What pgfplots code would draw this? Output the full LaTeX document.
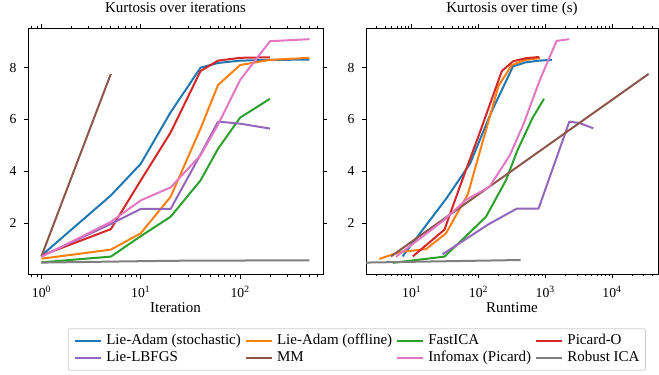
\documentclass[border=0pt]{standalone}
\usepackage{fontspec}
\setmainfont{Liberation Serif}
\usepackage{pgfplots}
\pgfplotsset{compat=1.18}
\definecolor{tabblue}{HTML}{1F77B4}
\definecolor{taborange}{HTML}{FF7F0E}
\definecolor{tabgreen}{HTML}{2CA02C}
\definecolor{tabred}{HTML}{D62728}
\definecolor{tabpurple}{HTML}{9467BD}
\definecolor{tabbrown}{HTML}{8C564B}
\definecolor{tabpink}{HTML}{E377C2}
\definecolor{tabgray}{HTML}{7F7F7F}
\definecolor{legframe}{HTML}{CCCCCC}
\begin{document}
\begin{tikzpicture}
\useasboundingbox (0pt,0pt) rectangle (659pt,375pt);
\begin{axis}[
  xmode=log, scale only axis, height=246pt,
  ymin=0.04, ymax=9.53, ytick={2,4,6,8},
  tick align=outside,
  major tick length=4.5pt, minor tick length=2.5pt,
  every tick/.style={black, line width=0.7pt},
  axis line style={line width=0.8pt},
  tick label style={font=\fontsize{13.7}{16}\selectfont},
  yticklabel style={anchor=east, inner xsep=0pt, xshift=-6.8pt},
  xticklabel style={anchor=base, inner sep=0pt, yshift=-19pt},
  title style={font=\fontsize{15}{18}\selectfont, anchor=base, at={(0.5,1)}, yshift=9.3pt},
  xlabel style={font=\fontsize{15}{18}\selectfont, anchor=base, at={(axis description cs:0.5,0)}, yshift=-38pt},
  every axis plot/.append style={line width=2pt, line join=round},
  at={(28pt,101pt)}, anchor=south west, width=295pt,
  xmin=0.733, xmax=684,
  xtick={1,10,100}, xticklabels={10\textsuperscript{0},10\textsuperscript{1},10\textsuperscript{2}},
  minor xtick={0.8,0.9,2,3,4,5,6,7,8,9,20,30,40,50,60,70,80,90,200,300,400,500,600},
  title={Kurtosis over iterations}, xlabel={Iteration},
  legend columns=4,
  legend cell align=left,
  legend image code/.code={\draw[#1] (0pt,0pt) -- (26pt,0pt);},
  legend style={at={(1.115,-0.2207)}, anchor=north, draw=legframe, line width=0.8pt, rounded corners=2pt,
    font=\fontsize{15}{18}\selectfont, inner xsep=6pt, inner ysep=5pt, row sep=3.5pt,
    nodes={inner xsep=0pt, inner ysep=0pt, text height=10.5pt, text depth=3.5pt},
    /tikz/every odd column/.append style={column sep=4pt},
    /tikz/every even column/.append style={column sep=4.2pt}},
  /pgf/number format/assume math mode=true,
]
\addplot[tabblue] coordinates {(1,0.75)(5,3.07)(10,4.29)(20,6.28)(40,8.0)(60,8.18)(100,8.27)(200,8.3)(500,8.31)};
\addlegendentry{Lie-Adam (stochastic)}
\addplot[taborange] coordinates {(1,0.63)(5,0.98)(10,1.61)(20,3.02)(40,5.65)(60,7.33)(100,8.1)(200,8.3)(500,8.38)};
\addlegendentry{Lie-Adam (offline)}
\addplot[tabgreen] coordinates {(1,0.49)(5,0.71)(10,1.5)(20,2.25)(40,3.65)(60,4.87)(100,6.07)(200,6.8)};
\addlegendentry{FastICA}
\addplot[tabred] coordinates {(1,0.75)(5,1.77)(10,3.65)(20,5.5)(40,7.87)(60,8.27)(100,8.38)(200,8.4)};
\addlegendentry{Picard-O}
\addplot[tabpurple] coordinates {(1,0.72)(5,1.97)(10,2.55)(20,2.55)(40,4.65)(60,5.92)(100,5.84)(200,5.65)};
\addlegendentry{Lie-LBFGS}
\addplot[tabbrown] coordinates {(1,0.72)(5,7.76)};
\addlegendentry{MM}
\addplot[tabpink] coordinates {(1,0.7)(5,2.05)(10,2.88)(20,3.38)(40,4.62)(60,5.8)(100,7.52)(200,9.02)(500,9.1)};
\addlegendentry{Infomax (Picard)}
\addplot[tabgray] coordinates {(1,0.48)(20,0.55)(500,0.57)};
\addlegendentry{Robust ICA}
\end{axis}
\begin{axis}[
  xmode=log, scale only axis, height=246pt,
  ymin=0.04, ymax=9.53, ytick={2,4,6,8},
  tick align=outside,
  major tick length=4.5pt, minor tick length=2.5pt,
  every tick/.style={black, line width=0.7pt},
  axis line style={line width=0.8pt},
  tick label style={font=\fontsize{13.7}{16}\selectfont},
  yticklabel style={anchor=east, inner xsep=0pt, xshift=-6.8pt},
  xticklabel style={anchor=base, inner sep=0pt, yshift=-19pt},
  title style={font=\fontsize{15}{18}\selectfont, anchor=base, at={(0.5,1)}, yshift=9.3pt},
  xlabel style={font=\fontsize{15}{18}\selectfont, anchor=base, at={(axis description cs:0.5,0)}, yshift=-38pt},
  every axis plot/.append style={line width=2pt, line join=round},
  at={(366pt,101pt)}, anchor=south west, width=292pt,
  xmin=2.07, xmax=48978,
  xtick={10,100,1000,10000}, xticklabels={10\textsuperscript{1},10\textsuperscript{2},10\textsuperscript{3},10\textsuperscript{4}},
  minor xtick={3,4,5,6,7,8,9,20,30,40,50,60,70,80,90,200,300,400,500,600,700,800,900,2000,3000,4000,5000,6000,7000,8000,9000,20000,30000,40000},
  title={Kurtosis over time (s)}, xlabel={Runtime},
  /pgf/number format/assume math mode=true,
]
\addplot[tabblue] coordinates {(7.3,0.72)(33,2.95)(75,4.3)(154,6.25)(330,8.05)(500,8.2)(800,8.27)(1260,8.3)};
\addplot[taborange] coordinates {(3.27,0.62)(6.5,0.88)(16.4,1.0)(32.7,1.61)(69,3.1)(130,5.6)(200,7.3)(316,8.1)(500,8.3)(840,8.37)};
\addplot[tabgreen] coordinates {(5.2,0.47)(31,0.71)(65,1.5)(130,2.25)(259,3.66)(390,4.85)(650,6.07)(960,6.8)};
\addplot[tabred] coordinates {(10.4,0.72)(31,1.75)(56,3.6)(105,5.5)(224,7.87)(333,8.25)(527,8.37)(810,8.41)};
\addplot[tabpurple] coordinates {(29,0.8)(140,1.95)(375,2.56)(795,2.56)(2300,5.92)(3300,5.86)(5250,5.66)};
\addplot[tabbrown] coordinates {(4.9,0.72)(35500,7.76)};
\addplot[tabpink] coordinates {(5.8,0.7)(30,2.1)(65,2.9)(146,3.4)(295,4.62)(470,5.8)(830,7.52)(1480,9.03)(2300,9.1)};
\addplot[tabgray] coordinates {(2,0.48)(430,0.58)};
\end{axis}
\end{tikzpicture}
\end{document}
